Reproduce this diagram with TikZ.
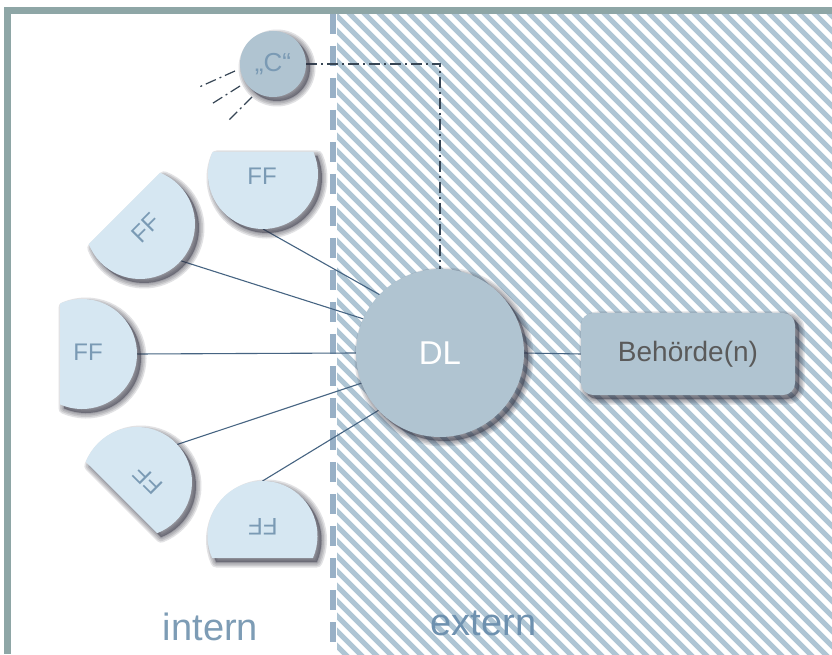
\documentclass[tikz,border=0pt]{standalone}
\usepackage{fontspec}
\setmainfont{Liberation Sans}
\usetikzlibrary{calc}
\definecolor{bordc}{RGB}{142,166,166}
\definecolor{hatchc}{RGB}{174,197,212}
\definecolor{sepc}{RGB}{152,176,198}
\definecolor{nodec}{RGB}{176,196,209}
\definecolor{ffc}{RGB}{214,231,242}
\definecolor{fftxt}{RGB}{122,154,180}
\definecolor{intc}{RGB}{125,156,181}
\definecolor{extc}{RGB}{110,145,175}
\definecolor{linec}{RGB}{70,100,130}
\definecolor{ddc}{RGB}{55,70,85}
\definecolor{shc}{RGB}{50,50,65}
\definecolor{behc}{RGB}{90,90,90}
\pgfdeclarelayer{bg}
\pgfdeclarelayer{lines}
\pgfsetlayers{bg,lines,main}
\tikzset{
  shlayer/.style={preaction={draw=shc, fill=shc, opacity=0.14, line width=#1, line join=round,
      transform canvas={shift={(4pt,-4pt)}}}},
  softshadow/.style={shlayer=11pt, shlayer=8pt, shlayer=5pt, shlayer=2pt},
  dlnode/.style={circle, fill=nodec, minimum size=168pt, inner sep=0pt, outer sep=0pt,
      text=white, font=\fontsize{33}{36}\selectfont, softshadow},
  cnode/.style={circle, fill=nodec, minimum size=66pt, inner sep=0pt, outer sep=0pt,
      text=fftxt, font=\fontsize{26}{28}\selectfont, softshadow},
  boxnode/.style={rectangle, rounded corners=12pt, fill=nodec, minimum width=214pt,
      minimum height=82pt, inner sep=0pt, outer sep=0pt, text=behc,
      font=\fontsize{28}{30}\selectfont, softshadow},
  ffanchor/.style={circle, minimum size=110pt, inner sep=0pt, outer sep=0pt},
  ffshape/.style={fill=ffc, softshadow},
  fftext/.style={text=fftxt, font=\fontsize{24}{26}\selectfont, inner sep=0pt},
  lbl/.style={font=\fontsize{38}{40}\selectfont, inner sep=0pt},
  conn/.style={draw=linec, line width=1.1pt},
  dd/.style={draw=ddc, line width=1.2pt, dash pattern=on 11pt off 4pt on 2pt off 4pt},
}
\begin{document}
\begin{tikzpicture}[x=1pt,y=1pt]
\useasboundingbox (0,0) rectangle (832,654);
\begin{pgfonlayer}{bg}
  \fill[white] (0,0) rectangle (832,654);
  \begin{scope}
    \clip (337,0) rectangle (832,640);
    \foreach \c in {330,345,...,1500}
      \draw[hatchc, line width=5pt] (\c-700,700) -- (\c+50,-50);
  \end{scope}
  \draw[sepc, line width=6.5pt, dash pattern=on 20pt off 12pt] (333,640) -- (333,0);
  \fill[bordc] (4,640) rectangle (832,647);
  \fill[bordc] (4,0) rectangle (11,647);
\end{pgfonlayer}

% anchors of the FF half discs
\node[ffanchor] (ff1) at (263,480) {};
\node[ffanchor] (ff2) at (140,430) {};
\node[ffanchor] (ff3) at (82,300) {};
\node[ffanchor] (ff4) at (137,172) {};
\node[ffanchor] (ff5) at (262.5,118) {};

\foreach \n/\r in {ff1/0, ff2/45, ff3/90, ff4/135, ff5/180}
  \path[ffshape] (\n.center) ++(156.42+\r:55) arc[start angle=156.42+\r, delta angle=227.16, radius=55] -- cycle;

\node[fftext] (ff1t) at (262,478) {FF};
\node[fftext, rotate=45] (ff2t) at (146,426) {FF};
\node[fftext] (ff3t) at (88,302) {FF};
\node[fftext, rotate=135] (ff4t) at (148,174) {FF};
\node[fftext, rotate=180] (ff5t) at (263,127) {FF};

\node[dlnode] (dl) at (440,301) {DL};
\node[cnode] (c) at (273,590) {„C“};
\node[boxnode] (beh) at (688,300) {Behörde(n)};

\coordinate (r1a) at (235,583); \coordinate (r1b) at (197,566);
\coordinate (r2a) at (240,568); \coordinate (r2b) at (210,549);
\coordinate (r3a) at (252,557); \coordinate (r3b) at (227,532);

\begin{pgfonlayer}{lines}
  \draw[conn] (ff1.-90) -- (dl.136);
  \draw[conn] (ff2.-42) -- (dl.156);
  \draw[conn] (ff3.0) -- (dl.180);
  \draw[conn] (ff4.43) -- (dl.201);
  \draw[conn] (ff5.90) -- (dl.223);
  \draw[conn] (dl.east) -- (beh.west);
  \draw[dd] (c.east) -| (dl.north);
  \draw[dd] (r1a) -- (r1b);
  \draw[dd] (r2a) -- (r2b);
  \draw[dd] (r3a) -- (r3b);
\end{pgfonlayer}

\node[lbl, text=intc, anchor=base] (intern) at (210.5,14) {intern};
\node[lbl, text=extc, anchor=base] (extern) at (483.5,19) {extern};
\end{tikzpicture}
\end{document}
